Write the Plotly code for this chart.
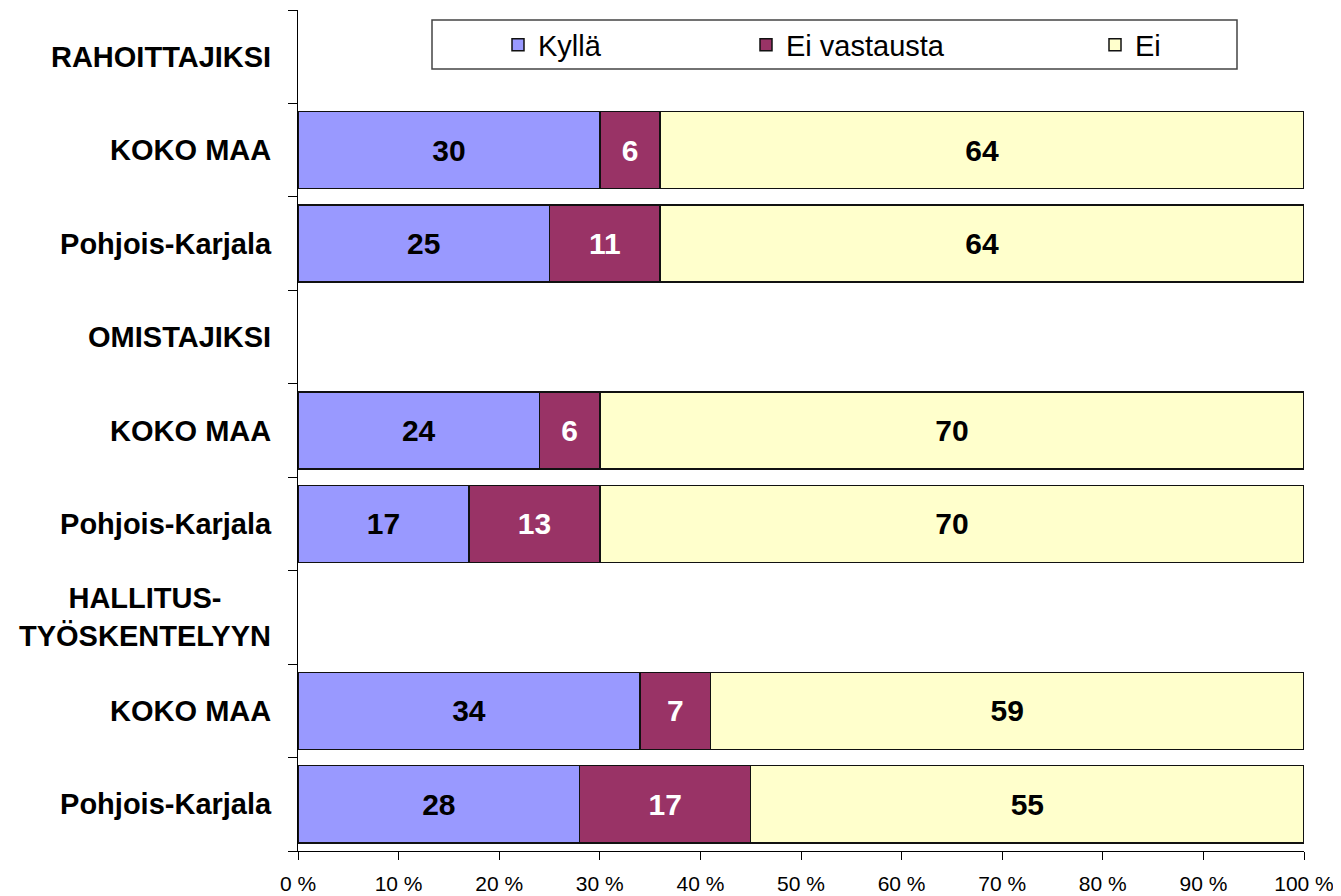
import plotly.graph_objects as go

categories = ["RAHOITTAJIKSI", "KOKO MAA", "Pohjois-Karjala",
              "OMISTAJIKSI", "KOKO MAA", "Pohjois-Karjala",
              "HALLITUS-<br>TYÖSKENTELYYN", "KOKO MAA", "Pohjois-Karjala"]
kylla = [None, 30, 25, None, 24, 17, None, 34, 28]
ei_vastausta = [None, 6, 11, None, 6, 13, None, 7, 17]
ei = [None, 64, 64, None, 70, 70, None, 59, 55]
x_ticks = [0, 10, 20, 30, 40, 50, 60, 70, 80, 90, 100]
x_ticktext = [f"{v} %" for v in x_ticks]

FONT = "Liberation Sans"
OFF = 8  # page body margin
W, H = 1341 - OFF, 896 - OFF
L, R, T, B = 298 - OFF, 37, 10 - OFF, 45
PW, PH = W - L - R, H - T - B


def px_x(p):
    return (p - OFF - L) / PW


def px_y(p):
    return (H - B - (p - OFF)) / PH


series = [("Kyllä", kylla, "#9999FF", "black", "legend", 498),
          ("Ei vastausta", ei_vastausta, "#993366", "white", "legend2", 746),
          ("Ei", ei, "#FFFFCC", "black", "legend3", 1095)]

ypos = list(range(len(categories)))
fig = go.Figure()
legends = {}
for name, vals, col, tcol, leg, lx in series:
    fig.add_trace(go.Bar(
        y=ypos, x=vals, name=name, orientation="h", legend=leg,
        marker=dict(color=col, line=dict(color="#111111", width=1.5)),
        width=0.825,
        text=[("" if v is None else str(v)) for v in vals],
        textposition="inside", insidetextanchor="middle", textangle=0,
        constraintext="none",
        textfont=dict(family=FONT, size=30, color=tcol, weight="bold"),
        hoverinfo="skip",
    ))
    legends[leg] = dict(x=px_x(lx), y=px_y(45), xanchor="left", yanchor="middle",
                        orientation="h", bgcolor="rgba(0,0,0,0)", borderwidth=0,
                        font=dict(size=29, family=FONT, color="black"))

ticktext = [("" if "<br>" in c else "<b>" + c + "</b>") for c in categories]

fig.update_layout(
    barmode="stack",
    width=W, height=H,
    margin=dict(l=L, r=R, t=T, b=B),
    plot_bgcolor="white", paper_bgcolor="white",
    font=dict(family=FONT, color="black"),
    showlegend=True,
    xaxis=dict(range=[0, 100], tickvals=x_ticks, ticktext=x_ticktext,
               showgrid=False, zeroline=False, showline=True, linecolor="black",
               linewidth=1, ticks="outside", ticklen=8, tickcolor="black",
               ticklabelstandoff=6, automargin=False,
               tickfont=dict(size=21, family=FONT)),
    yaxis=dict(range=[8.5, -0.5], tickvals=ypos, ticktext=ticktext,
               showgrid=False, zeroline=False, showline=True, linecolor="black",
               linewidth=1, ticks="", ticklabelstandoff=20, automargin=False,
               tickfont=dict(size=29, family=FONT),
               minor=dict(tickvals=[i - 0.5 for i in range(len(categories) + 1)],
                          ticks="outside", ticklen=9, tickcolor="black", showgrid=False)),
    **legends,
)

# legend frame
fig.add_shape(type="rect", xref="paper", yref="paper",
              x0=px_x(432), x1=px_x(1237), y0=px_y(69), y1=px_y(20),
              line=dict(color="#444444", width=1.5), fillcolor="white", layer="below")

for i, c in enumerate(categories):
    if "<br>" in c:
        fig.add_annotation(x=-25 / PW, xref="paper", y=i, yref="y", text="<b>" + c + "</b>",
                           showarrow=False, xanchor="right", yanchor="middle", align="center",
                           font=dict(size=29, family=FONT, color="black"))

fig.write_html("out.html")
